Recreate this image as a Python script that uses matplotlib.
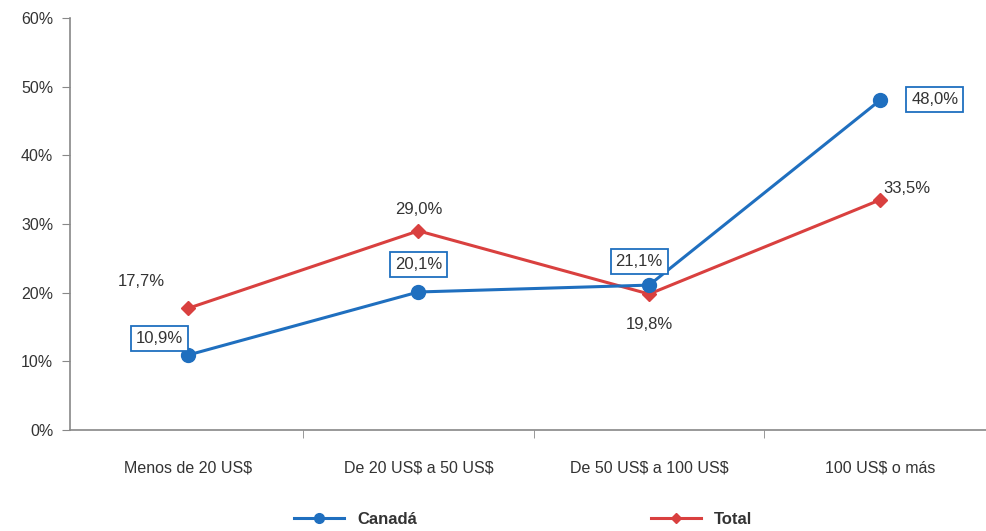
import matplotlib
matplotlib.use("Agg")
import matplotlib.pyplot as plt
from matplotlib.ticker import FixedLocator, PercentFormatter

categories = ["Menos de 20 US$", "De 20 US$ a 50 US$", "De 50 US$ a 100 US$", "100 US$ o más"]
canada = [10.9, 20.1, 21.1, 48.0]
total = [17.7, 29.0, 19.8, 33.5]
y_ticks = [0, 10, 20, 30, 40, 50, 60]

plt.rcParams['font.family'] = ['Liberation Sans', 'DejaVu Sans']
plt.rcParams['text.parse_math'] = False
blue = "#1f6fbf"
red = "#d9403f"
txt = "#333333"

fig = plt.figure(figsize=(9.87, 5.31), dpi=100)
ax = fig.add_axes([70/987, 1-430/531, 916/987, 412/531])
x = list(range(len(categories)))
ax.plot(x, canada, color=blue, lw=2.2, marker='o', ms=10, label="Canadá", zorder=3)
ax.plot(x, total, color=red, lw=2.2, marker='D', ms=7, label="Total", zorder=2)

ax.set_xlim(-0.51, 3.46)
ax.set_ylim(0, 60)
ax.set_yticks(y_ticks)
ax.yaxis.set_major_formatter(PercentFormatter(decimals=0))
ax.set_xticks(x)
ax.set_xticklabels(categories)
ax.xaxis.set_minor_locator(FixedLocator([0.5, 1.5, 2.5]))
ax.tick_params(axis='x', which='major', length=0, pad=22, labelsize=11.5, labelcolor=txt)
ax.tick_params(axis='x', which='minor', length=6, color="#888888", direction='out')
ax.tick_params(axis='y', length=6, color="#888888", labelsize=11.5, labelcolor=txt, pad=6)
for s in ['top', 'right']:
    ax.spines[s].set_visible(False)
for s in ['left', 'bottom']:
    ax.spines[s].set_color("#888888")
    ax.spines[s].set_linewidth(1.2)

def fmt(v):
    return f"{v:.1f}%".replace('.', ',')

box = dict(boxstyle='square,pad=0.3', fc='white', ec=blue, lw=1.3)
can_off = [(-28, 17), (0, 27), (-10, 24), (55, 1)]
for xi, v, (dx, dy) in zip(x, canada, can_off):
    ax.annotate(fmt(v), (xi, v), xytext=(dx, dy), textcoords='offset pixels',
                ha='center', va='center', fontsize=12, color=txt, bbox=box, zorder=5)
tot_off = [(-46, 27), (0, 21), (0, -30), (27, 11)]
for xi, v, (dx, dy) in zip(x, total, tot_off):
    ax.annotate(fmt(v), (xi, v), xytext=(dx, dy), textcoords='offset pixels',
                ha='center', va='center', fontsize=12, color=txt, zorder=5)

leg = fig.legend(loc='center', bbox_to_anchor=(0.53, 1-519/531), ncol=2, frameon=False,
                 columnspacing=14, handlelength=3, markerscale=0.7,
                 prop={'weight': 'bold', 'size': 12})
for t in leg.get_texts():
    t.set_color(txt)

fig.savefig("out.png", dpi=100)
